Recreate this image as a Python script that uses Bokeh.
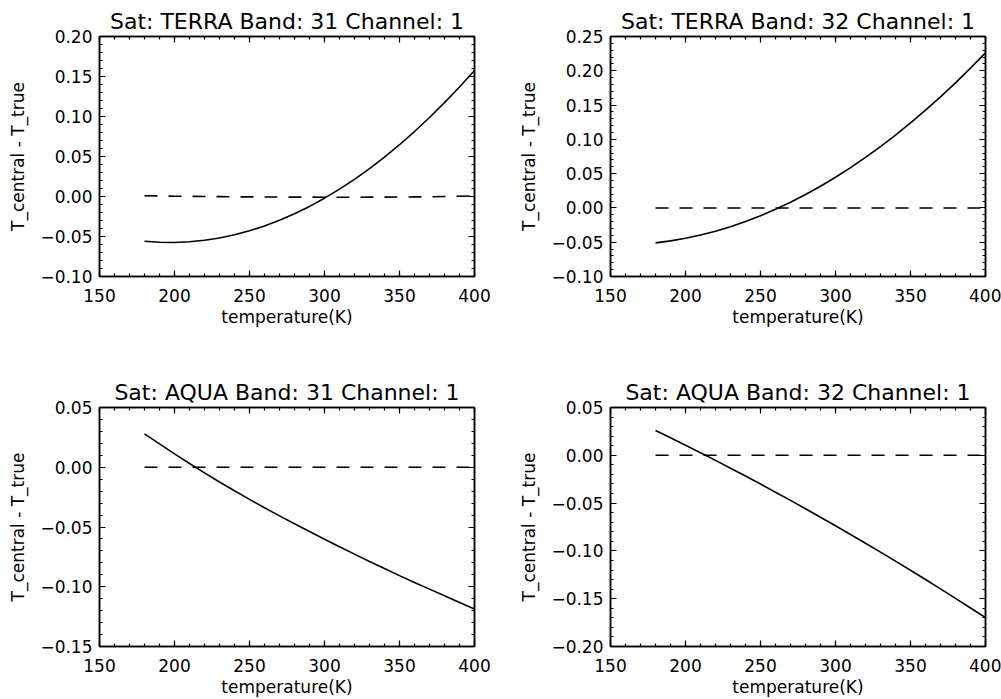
import numpy as np
from bokeh.plotting import figure
from bokeh.models import Range1d, FixedTicker, LinearAxis, CustomJSTickFormatter
from bokeh.layouts import column, row
from bokeh.embed import file_html
from bokeh.resources import INLINE

# ---------------- data ----------------
temperature = [180, 190, 200, 210, 220, 230, 240, 250, 260, 270, 280, 290,
               300, 310, 320, 330, 340, 350, 360, 370, 380, 390, 400]

terra31_diff = [-0.0560, -0.0572, -0.0575, -0.0566, -0.0547, -0.0518, -0.0479, -0.0428,
                -0.0368, -0.0297, -0.0215, -0.0124, -0.0021, 0.0092, 0.0215, 0.0348,
                0.0492, 0.0647, 0.0812, 0.0987, 0.1173, 0.1369, 0.1576]
terra31_ref = [0.0010, 0.0007, 0.0004, 0.0002, 0.0000, -0.0002, -0.0004, -0.0005,
               -0.0006, -0.0007, -0.0008, -0.0008, -0.0009, -0.0009, -0.0009, -0.0008,
               -0.0008, -0.0007, -0.0005, -0.0003, 0.0000, 0.0003, 0.0007]

terra32_diff = [-0.0510, -0.0481, -0.0443, -0.0396, -0.0339, -0.0273, -0.0198, -0.0113,
                -0.0020, 0.0083, 0.0195, 0.0317, 0.0447, 0.0587, 0.0736, 0.0894,
                0.1062, 0.1239, 0.1425, 0.1620, 0.1824, 0.2038, 0.2261]
terra32_ref = [0.0, 0.0, 0.0, 0.0, 0.0, 0.0, 0.0, 0.0, 0.0, 0.0, 0.0, 0.0,
               0.0, 0.0, 0.0, 0.0, 0.0, 0.0, 0.0, 0.0, 0.0, 0.0, 0.0]

aqua31_diff = [0.0280, 0.0195, 0.0112, 0.0031, -0.0047, -0.0123, -0.0197, -0.0269,
               -0.0339, -0.0407, -0.0473, -0.0538, -0.0602, -0.0665, -0.0727, -0.0788,
               -0.0848, -0.0907, -0.0964, -0.1020, -0.1076, -0.1131, -0.1186]
aqua31_ref = [0.0, 0.0, 0.0, 0.0, 0.0, 0.0, 0.0, 0.0, 0.0, 0.0, 0.0, 0.0,
              0.0, 0.0, 0.0, 0.0, 0.0, 0.0, 0.0, 0.0, 0.0, 0.0, 0.0]

aqua32_diff = [0.0260, 0.0183, 0.0106, 0.0027, -0.0053, -0.0135, -0.0217, -0.0301,
               -0.0386, -0.0472, -0.0559, -0.0648, -0.0737, -0.0828, -0.0920, -0.1013,
               -0.1107, -0.1203, -0.1299, -0.1397, -0.1496, -0.1597, -0.1698]
aqua32_ref = [0.0, 0.0, 0.0, 0.0, 0.0, 0.0, 0.0, 0.0, 0.0, 0.0, 0.0, 0.0,
              0.0, 0.0, 0.0, 0.0, 0.0, 0.0, 0.0, 0.0, 0.0, 0.0, 0.0]

titles = ["Sat: TERRA Band: 31 Channel: 1", "Sat: TERRA Band: 32 Channel: 1",
          "Sat: AQUA Band: 31 Channel: 1", "Sat: AQUA Band: 32 Channel: 1"]
x_label = "temperature(K)"
y_label = "T_central - T_true"

x_range = (150, 400)
x_ticks = [150, 200, 250, 300, 350, 400]

y_ticks_terra31 = [-0.10, -0.05, 0.00, 0.05, 0.10, 0.15, 0.20]
y_ticks_terra32 = [-0.10, -0.05, 0.00, 0.05, 0.10, 0.15, 0.20, 0.25]
y_ticks_aqua31 = [-0.15, -0.10, -0.05, 0.00, 0.05]
y_ticks_aqua32 = [-0.20, -0.15, -0.10, -0.05, 0.00, 0.05]

FONT = "DejaVu Sans"
LBL = "17px"


def minor_list(lo, hi, step):
    n = int(round((hi - lo) / step))
    return [round(lo + i * step, 4) for i in range(n + 1)]


def style_axis(ax, ticker, labels):
    ax.ticker = ticker
    ax.axis_line_color = "black"
    ax.axis_line_width = 1.5
    ax.major_tick_line_color = "black"
    ax.minor_tick_line_color = "black"
    ax.major_tick_line_width = 1.2
    ax.minor_tick_line_width = 1.2
    ax.major_tick_in = 6
    ax.major_tick_out = 0
    ax.minor_tick_in = 3
    ax.minor_tick_out = 0
    ax.major_label_text_font = FONT
    ax.major_label_text_font_size = LBL
    ax.major_label_text_color = "black"
    ax.axis_label_text_font = FONT
    ax.axis_label_text_font_size = LBL
    ax.axis_label_text_font_style = "normal"
    ax.axis_label_text_color = "black"
    if not labels:
        ax.formatter = CustomJSTickFormatter(code="return ''")
        ax.major_label_standoff = 0
        ax.axis_label = None


def make_panel(title, diff, ref, yticks, width, height, left, right, top, bottom):
    ylo, yhi = yticks[0], yticks[-1]
    p = figure(width=width, height=height, title=title,
               x_range=Range1d(*x_range), y_range=Range1d(ylo, yhi),
               output_backend="svg", toolbar_location=None,
               min_border_left=left, min_border_right=right,
               min_border_top=top, min_border_bottom=bottom,
               background_fill_color="white", border_fill_color="white")
    p.grid.visible = False
    p.outline_line_color = "black"
    p.outline_line_width = 1.5

    p.title.align = "center"
    p.title.text_font = FONT
    p.title.text_font_size = "22px"
    p.title.text_font_style = "normal"
    p.title.text_color = "black"
    p.title.standoff = 5

    xt = FixedTicker(ticks=x_ticks, minor_ticks=minor_list(x_range[0], x_range[1], 10))
    yt = FixedTicker(ticks=yticks, minor_ticks=minor_list(ylo, yhi, 0.01))

    style_axis(p.xaxis[0], xt, True)
    p.xaxis[0].major_label_standoff = 12
    p.xaxis[0].axis_label = x_label
    p.xaxis[0].axis_label_standoff = 2

    style_axis(p.yaxis[0], yt, True)
    p.yaxis[0].major_label_standoff = 7
    p.yaxis[0].axis_label = y_label
    p.yaxis[0].axis_label_standoff = 9
    p.yaxis[0].formatter = CustomJSTickFormatter(
        code="return tick.toFixed(2).replace('-', '\\u2212');")

    top_ax = LinearAxis()
    style_axis(top_ax, xt, False)
    p.add_layout(top_ax, "above")
    right_ax = LinearAxis()
    style_axis(right_ax, yt, False)
    p.add_layout(right_ax, "right")

    p.line(temperature, diff, line_color="black", line_width=1.6)
    p.line(temperature, ref, line_color="black", line_width=1.6, line_dash="13 11")
    return p


# frames: left column x 99..474, right column x 610..985; top row y 36..276, bottom row y 407..647
p1 = make_panel(titles[0], terra31_diff, terra31_ref, y_ticks_terra31, 505, 360, 99, 31, 36, 84)
p2 = make_panel(titles[1], terra32_diff, terra32_ref, y_ticks_terra32, 496, 360, 105, 16, 36, 84)
p3 = make_panel(titles[2], aqua31_diff, aqua31_ref, y_ticks_aqua31, 505, 339, 99, 31, 47, 52)
p4 = make_panel(titles[3], aqua32_diff, aqua32_ref, y_ticks_aqua32, 496, 339, 105, 16, 47, 52)

layout = column(row(p1, p2), row(p3, p4))

open("out.html", "w").write(file_html(layout, INLINE))
